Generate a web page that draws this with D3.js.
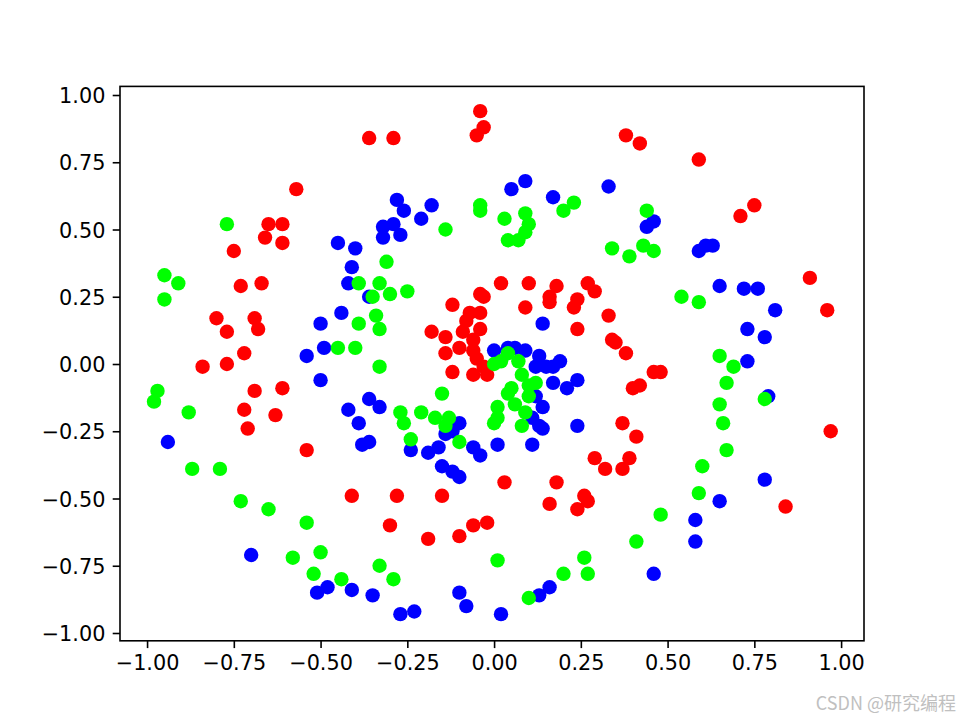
<!DOCTYPE html>
<html>
<head>
<meta charset="utf-8">
<script src="https://cdn.jsdelivr.net/npm/d3@7"></script>
<style>
  body { margin: 0; background: #fff; }
  svg { display: block; }
  .tick text { font-family: "DejaVu Sans", sans-serif; font-size: 20.8px; fill: #000; }
</style>
</head>
<body>
<div id="chart"></div>
<script>
// three spiral arms
var redPoints = [
  [-0.36,0.84],[-0.29,0.84],[-0.04,0.94],[-0.03,0.88],[-0.05,0.85],[0.38,0.85],[0.42,0.82],[0.59,0.76],
  [-0.57,0.65],[-0.65,0.52],[-0.61,0.52],[-0.66,0.47],[-0.61,0.45],[-0.75,0.42],[0.75,0.59],[0.71,0.55],
  [0.91,0.32],[0.96,0.20],[-0.73,0.29],[-0.67,0.30],[-0.80,0.17],[-0.69,0.17],[-0.77,0.12],[-0.68,0.13],
  [-0.72,0.04],[-0.84,-0.01],[-0.77,0.00],[-0.69,-0.10],[-0.61,-0.09],[-0.72,-0.17],[-0.63,-0.19],[-0.71,-0.24],
  [-0.54,-0.32],[0.02,0.30],[0.10,0.30],[0.18,0.29],[0.27,0.30],[0.29,0.27],[0.16,0.25],[0.16,0.23],
  [0.24,0.24],[0.23,0.21],[0.09,0.21],[0.33,0.18],[0.24,0.13],[0.34,0.09],[0.35,0.08],[-0.04,0.26],
  [-0.03,0.25],[-0.12,0.22],[-0.07,0.19],[-0.04,0.19],[-0.08,0.16],[-0.18,0.12],[-0.14,0.10],[-0.09,0.12],
  [-0.04,0.13],[-0.06,0.09],[-0.10,0.06],[-0.14,0.04],[-0.06,0.05],[-0.05,0.02],[-0.12,-0.03],[-0.06,-0.04],
  [-0.02,-0.04],[-0.03,-0.01],[0.38,0.04],[0.46,-0.03],[0.48,-0.03],[0.42,-0.08],[0.40,-0.09],[0.37,-0.22],
  [0.41,-0.27],[0.39,-0.35],[0.97,-0.25],[0.29,-0.35],[0.32,-0.39],[0.37,-0.39],[0.03,-0.44],[0.18,-0.44],
  [0.26,-0.49],[0.27,-0.51],[0.24,-0.54],[0.16,-0.52],[-0.28,-0.49],[-0.15,-0.49],[-0.30,-0.60],[-0.19,-0.65],
  [-0.10,-0.64],[-0.06,-0.60],[-0.02,-0.59],[-0.41,-0.49],[0.84,-0.53]
];
var bluePoints = [
  [0.05,0.65],[0.09,0.68],[0.17,0.62],[0.33,0.66],[-0.28,0.61],[-0.26,0.57],[-0.18,0.59],[-0.21,0.54],
  [-0.29,0.52],[-0.32,0.51],[-0.27,0.48],[-0.32,0.47],[-0.45,0.45],[-0.40,0.43],[-0.41,0.36],[0.46,0.53],
  [0.44,0.51],[0.59,0.42],[0.61,0.44],[0.63,0.44],[-0.42,0.30],[-0.36,0.25],[-0.44,0.19],[-0.50,0.15],
  [-0.49,0.06],[-0.54,0.03],[-0.50,-0.06],[-0.42,-0.17],[-0.39,-0.22],[-0.36,-0.13],[-0.33,-0.16],[-0.38,-0.30],
  [-0.36,-0.29],[-0.94,-0.29],[0.14,0.15],[0.00,0.05],[0.04,0.06],[0.06,0.06],[0.09,0.05],[0.13,0.03],
  [0.19,0.01],[0.17,-0.01],[0.15,-0.01],[0.12,-0.01],[0.17,-0.07],[0.24,-0.06],[0.21,-0.09],[0.12,-0.12],
  [0.14,-0.16],[0.11,-0.20],[0.13,-0.23],[0.14,-0.24],[0.24,-0.23],[0.11,-0.30],[0.01,-0.30],[-0.06,-0.31],
  [-0.04,-0.34],[-0.10,-0.22],[-0.12,-0.25],[-0.14,-0.26],[-0.16,-0.31],[-0.19,-0.33],[-0.24,-0.32],[0.65,0.29],
  [0.72,0.28],[0.76,0.28],[0.81,0.20],[0.73,0.13],[0.78,0.10],[0.73,0.01],[0.79,-0.12],[-0.70,-0.71],
  [-0.48,-0.83],[-0.51,-0.85],[-0.41,-0.84],[-0.35,-0.86],[-0.15,-0.38],[-0.12,-0.40],[-0.10,-0.42],[0.13,-0.86],
  [0.16,-0.83],[-0.10,-0.85],[-0.08,-0.90],[-0.27,-0.93],[-0.23,-0.92],[0.02,-0.93],[0.78,-0.43],[0.65,-0.51],
  [0.58,-0.58],[0.58,-0.66],[0.46,-0.78]
];
var greenPoints = [
  [-0.77,0.52],[-0.95,0.33],[-0.91,0.30],[-0.95,0.24],[-0.04,0.59],[-0.04,0.57],[0.03,0.54],[0.09,0.56],
  [0.10,0.52],[0.09,0.49],[0.07,0.46],[0.04,0.46],[-0.14,0.50],[-0.31,0.38],[0.23,0.60],[0.20,0.57],
  [0.34,0.43],[0.44,0.57],[0.39,0.40],[0.43,0.44],[0.46,0.42],[-0.39,0.30],[-0.39,0.15],[-0.45,0.06],
  [-0.40,0.06],[-0.33,0.30],[-0.35,0.25],[-0.30,0.26],[-0.25,0.27],[-0.34,0.18],[-0.33,0.13],[-0.33,-0.01],
  [-0.97,-0.10],[-0.98,-0.14],[-0.88,-0.18],[0.00,0.00],[0.02,0.01],[0.04,0.04],[0.07,0.01],[0.08,-0.04],
  [0.12,-0.07],[0.10,-0.08],[0.05,-0.09],[0.04,-0.11],[0.10,-0.12],[0.06,-0.15],[0.09,-0.18],[0.08,-0.23],
  [0.01,-0.16],[0.01,-0.20],[0.00,-0.22],[-0.15,-0.11],[-0.27,-0.18],[-0.26,-0.22],[-0.21,-0.18],[-0.17,-0.20],
  [-0.13,-0.20],[-0.14,-0.23],[-0.24,-0.28],[-0.10,-0.29],[0.54,0.25],[0.59,0.23],[0.65,0.03],[0.69,-0.01],
  [0.67,-0.07],[0.65,-0.15],[0.66,-0.22],[0.67,-0.32],[0.78,-0.13],[-0.87,-0.39],[-0.79,-0.39],[-0.73,-0.51],
  [-0.65,-0.54],[-0.54,-0.59],[-0.58,-0.72],[-0.50,-0.70],[-0.52,-0.78],[-0.44,-0.80],[-0.33,-0.75],[-0.29,-0.80],
  [0.01,-0.73],[0.26,-0.72],[0.20,-0.78],[0.27,-0.78],[0.10,-0.87],[0.60,-0.38],[0.59,-0.48],[0.48,-0.56],
  [0.41,-0.66]
];
var xTicks = [-1.0, -0.75, -0.5, -0.25, 0, 0.25, 0.5, 0.75, 1.0];
var yTicks = [-1.0, -0.75, -0.5, -0.25, 0, 0.25, 0.5, 0.75, 1.0];

var width = 960, height = 720;
var margin = {top: 86.4, right: 96, bottom: 79.2, left: 120};
var chartWidth = width - margin.left - margin.right;
var chartHeight = height - margin.top - margin.bottom;

var svg = d3.select('#chart').append('svg')
    .attr('width', width)
    .attr('height', height);

var g = svg.append('g')
    .attr('transform', `translate(${margin.left}, ${margin.top})`);

var xScale = d3.scaleLinear().domain([-1.078, 1.066]).range([0, chartWidth]);
var yScale = d3.scaleLinear().domain([-1.029, 1.032]).range([chartHeight, 0]);

// dots go under the spines, as in matplotlib
var series = [
  {pts: redPoints, color: '#ff0000'},
  {pts: bluePoints, color: '#0000ff'},
  {pts: greenPoints, color: '#00ff00'}
];
series.forEach(function(s) {
  g.append('g').selectAll('circle')
    .data(s.pts)
    .enter()
    .append('circle')
    .attr('cx', function(d) { return xScale(d[0]); })
    .attr('cy', function(d) { return yScale(d[1]); })
    .attr('r', 7.2)
    .attr('fill', s.color);
});

var fmt = d3.format('.2f');
var xAxis = d3.axisBottom(xScale).tickValues(xTicks).tickFormat(fmt).tickSize(7.3).tickPadding(7.3);
var yAxis = d3.axisLeft(yScale).tickValues(yTicks).tickFormat(fmt).tickSize(7.3).tickPadding(7.3);

var gx = g.append('g').attr('transform', `translate(0,${chartHeight})`).call(xAxis);
var gy = g.append('g').call(yAxis);
[gx, gy].forEach(function(a) {
  a.select('.domain').remove();
  a.selectAll('.tick line').attr('stroke', '#000').attr('stroke-width', 1.6);
});
gy.selectAll('.tick text').attr('dy', '0.36em');

g.append('rect')
  .attr('width', chartWidth)
  .attr('height', chartHeight)
  .attr('fill', 'none')
  .attr('stroke', '#000')
  .attr('stroke-width', 1.6);

svg.append('text')
  .attr('x', 956)
  .attr('y', 710)
  .attr('text-anchor', 'end')
  .attr('font-family', '"Noto Sans CJK SC", sans-serif')
  .attr('font-size', 18)
  .attr('fill', '#c0c0c0')
  .text('CSDN @研究编程');
</script>
</body>
</html>
